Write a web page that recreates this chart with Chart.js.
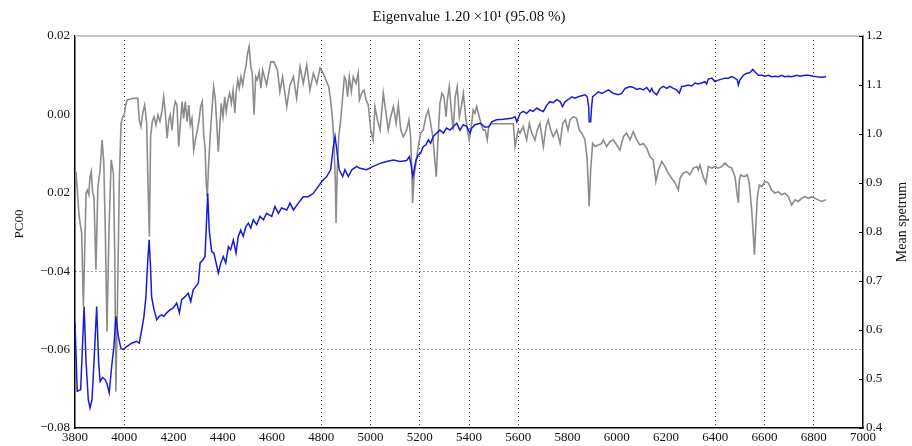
<!DOCTYPE html>
<html>
<head>
<meta charset="utf-8">
<title>Eigenvalue chart</title>
<script src="https://cdn.jsdelivr.net/npm/chart.js@4.4.1/dist/chart.umd.min.js"></script>
<style>
  html, body { margin: 0; padding: 0; background: #fff; }
  canvas { display: block; }
</style>
</head>
<body>
<canvas id="chart" width="912" height="446"></canvas>
<script>
// PC00 (grey, left axis) - wavelength and value
const pcWave = [
  3804,3817,3827,3834,3845,3850,3856,3861,3866,3872,
  3877,3885,3893,3902,3910,3917,3923,3930,3938,3947,
  3956,3962,3966,3973,3980,3987,3994,4000,4006,4012,
  4037,4055,4061,4068,4075,4083,4091,4096,4102,4107,
  4114,4121,4129,4137,4145,4153,4160,4167,4174,4181,
  4187,4194,4201,4207,4214,4221,4228,4235,4241,4248,
  4255,4262,4268,4275,4282,4289,4297,4304,4310,4317,
  4323,4328,4333,4337,4343,4348,4356,4363,4370,4377,
  4382,4388,4394,4401,4408,4414,4421,4428,4435,4442,
  4449,4454,4461,4467,4474,4481,4488,4494,4501,4507,
  4514,4520,4527,4534,4540,4548,4555,4562,4578,4595,
  4608,4622,4632,4643,4660,4673,4687,4700,4714,4727,
  4741,4754,4768,4782,4795,4808,4819,4830,4838,4846,
  4852,4857,4860,4865,4871,4879,4887,4894,4900,4907,
  4914,4922,4930,4941,4950,4955,4964,4974,4982,4991,
  5001,5011,5018,5028,5039,5052,5063,5072,5082,5093,
  5104,5113,5123,5133,5147,5156,5163,5169,5171,5177,
  5188,5196,5204,5214,5225,5235,5242,5253,5262,5267,
  5274,5282,5290,5298,5307,5312,5320,5328,5336,5344,
  5352,5361,5369,5377,5385,5393,5401,5409,5417,5424,
  5431,5438,5445,5452,5458,5466,5474,5480,5488,5580,
  5587,5594,5600,5607,5620,5634,5645,5655,5668,5677,
  5688,5702,5713,5722,5732,5742,5756,5770,5781,5791,
  5802,5810,5824,5837,5848,5858,5871,5880,5888,5894,
  5902,5912,5925,5939,5945,5959,5973,5986,6000,6013,
  6027,6040,6054,6067,6081,6094,6108,6122,6135,6148,
  6159,6169,6183,6196,6209,6223,6237,6250,6257,6270,
  6284,6297,6311,6325,6331,6338,6351,6362,6372,6386,
  6399,6412,6426,6440,6453,6467,6480,6490,6494,6498,
  6503,6517,6530,6538,6548,6555,6559,6564,6571,6579,
  6589,6602,6616,6629,6643,6656,6670,6683,6697,6710,
  6724,6737,6751,6764,6778,6792,6805,6818,6832,6850
];
const pcValues = [
  -0.0146,-0.0261,-0.0303,-0.0490,-0.0201,-0.0193,-0.0205,-0.0159,-0.0146,-0.0201,
  -0.0210,-0.0396,-0.0184,-0.0142,-0.0065,-0.0124,-0.0295,-0.0554,-0.0295,-0.0116,
  -0.0150,-0.0379,-0.0707,-0.0465,-0.0167,-0.0023,-0.0006,-0.0001,0.0024,0.0037,
  0.0041,0.0041,-0.0014,-0.0031,0.0003,0.0024,-0.0023,-0.0167,-0.0312,-0.0057,
  -0.0018,-0.0006,-0.0027,-0.0001,-0.0018,0.0007,0.0045,0.0003,-0.0061,-0.0014,
  -0.0001,-0.0040,0.0011,0.0033,0.0024,-0.0082,-0.0023,0.0033,-0.0010,0.0033,
  -0.0018,0.0024,-0.0027,-0.0010,-0.0091,-0.0065,-0.0040,-0.0014,0.0020,0.0033,
  -0.0057,-0.0082,-0.0175,-0.0210,-0.0124,-0.0065,0.0011,0.0071,0.0037,-0.0040,
  -0.0095,-0.0031,0.0028,-0.0006,0.0045,0.0007,0.0037,0.0054,0.0028,0.0062,
  0.0003,0.0054,0.0088,0.0067,0.0096,0.0075,0.0105,0.0122,0.0156,0.0173,
  0.0122,0.0105,-0.0001,0.0096,0.0088,0.0109,0.0067,0.0113,0.0075,0.0134,
  0.0134,0.0113,0.0058,0.0096,0.0020,0.0075,0.0096,0.0041,0.0122,0.0079,
  0.0126,0.0062,0.0105,0.0079,0.0118,0.0105,0.0088,0.0071,0.0037,-0.0014,
  -0.0082,-0.0167,-0.0277,-0.0142,-0.0057,-0.0014,0.0045,0.0096,0.0088,0.0045,
  0.0096,0.0058,0.0096,0.0079,0.0105,0.0037,0.0054,0.0062,0.0037,0.0024,
  -0.0040,-0.0065,0.0020,-0.0014,-0.0040,0.0054,0.0003,-0.0040,-0.0006,0.0020,
  -0.0023,0.0024,-0.0040,-0.0057,-0.0040,-0.0014,-0.0057,-0.0167,-0.0226,-0.0159,
  -0.0108,-0.0074,-0.0048,-0.0040,-0.0006,0.0011,-0.0014,-0.0057,-0.0124,-0.0159,
  -0.0065,0.0028,0.0054,0.0045,-0.0006,0.0037,0.0071,0.0011,-0.0040,0.0045,
  0.0071,-0.0006,0.0020,0.0054,0.0003,-0.0040,-0.0065,-0.0031,0.0011,0.0003,
  0.0020,0.0003,-0.0014,-0.0031,-0.0040,-0.0040,-0.0065,-0.0031,-0.0024,-0.0024,
  -0.0082,-0.0057,-0.0040,-0.0048,-0.0031,-0.0065,-0.0023,-0.0048,-0.0065,-0.0040,
  -0.0023,-0.0082,-0.0031,-0.0014,-0.0040,-0.0057,-0.0040,-0.0074,-0.0023,-0.0014,
  -0.0040,-0.0014,-0.0006,-0.0010,-0.0040,-0.0048,-0.0065,-0.0116,-0.0235,-0.0142,
  -0.0074,-0.0082,-0.0078,-0.0074,-0.0065,-0.0082,-0.0069,-0.0065,-0.0078,-0.0091,
  -0.0057,-0.0048,-0.0065,-0.0044,-0.0065,-0.0078,-0.0074,-0.0086,-0.0108,-0.0116,
  -0.0171,-0.0142,-0.0120,-0.0133,-0.0150,-0.0163,-0.0175,-0.0193,-0.0163,-0.0150,
  -0.0146,-0.0154,-0.0137,-0.0133,-0.0142,-0.0129,-0.0159,-0.0175,-0.0133,-0.0137,
  -0.0133,-0.0137,-0.0133,-0.0124,-0.0133,-0.0137,-0.0159,-0.0210,-0.0226,-0.0167,
  -0.0154,-0.0159,-0.0154,-0.0175,-0.0244,-0.0312,-0.0358,-0.0295,-0.0210,-0.0180,
  -0.0184,-0.0171,-0.0175,-0.0193,-0.0201,-0.0197,-0.0205,-0.0201,-0.0210,-0.0231,
  -0.0218,-0.0222,-0.0214,-0.0210,-0.0214,-0.0210,-0.0214,-0.0218,-0.0222,-0.0218
];

// mean spectrum (blue, right axis)
const meanWave = [
  3800,3809,3823,3837,3845,3854,3861,3869,3877,3888,
  3896,3902,3912,3922,3929,3939,3949,3958,3966,3976,
  3986,3996,4010,4030,4051,4061,4071,4080,4088,4095,
  4101,4106,4111,4121,4132,4142,4152,4161,4172,4186,
  4199,4213,4224,4233,4247,4260,4270,4280,4291,4301,
  4308,4319,4328,4335,4339,4345,4355,4364,4373,4382,
  4392,4402,4412,4423,4432,4443,4454,4463,4473,4483,
  4494,4504,4514,4524,4538,4551,4565,4578,4599,4612,
  4626,4639,4660,4673,4687,4707,4727,4747,4768,4788,
  4802,4822,4838,4849,4856,4863,4873,4887,4896,4910,
  4924,4944,4957,4984,5011,5039,5066,5093,5120,5147,
  5158,5166,5172,5177,5185,5194,5204,5214,5225,5235,
  5244,5255,5269,5282,5296,5309,5323,5336,5350,5363,
  5377,5391,5404,5411,5424,5445,5465,5482,5492,5512,
  5539,5573,5587,5594,5607,5620,5634,5648,5661,5675,
  5688,5702,5716,5729,5742,5756,5770,5780,5790,5803,
  5817,5830,5844,5858,5871,5880,5886,5888,5894,5898,
  5902,5912,5925,5939,5952,5966,5986,6006,6020,6034,
  6054,6067,6081,6094,6108,6122,6135,6142,6148,6162,
  6176,6189,6203,6216,6230,6243,6254,6264,6277,6291,
  6304,6318,6331,6345,6358,6365,6372,6386,6399,6412,
  6426,6440,6453,6467,6480,6490,6494,6500,6514,6528,
  6541,6552,6561,6575,6589,6602,6616,6629,6643,6656,
  6670,6683,6697,6710,6731,6744,6764,6778,6798,6812,
  6832,6850
];
const meanValues = [
  0.614,0.475,0.478,0.648,0.533,0.458,0.441,0.458,0.533,0.648,
  0.533,0.495,0.503,0.499,0.492,0.472,0.526,0.566,0.628,0.587,
  0.563,0.560,0.566,0.573,0.577,0.573,0.601,0.628,0.668,0.737,
  0.784,0.737,0.668,0.641,0.621,0.628,0.631,0.628,0.635,0.641,
  0.645,0.655,0.635,0.662,0.668,0.675,0.658,0.682,0.689,0.696,
  0.737,0.743,0.750,0.832,0.879,0.804,0.760,0.757,0.737,0.716,
  0.737,0.750,0.737,0.770,0.764,0.784,0.757,0.791,0.804,0.791,
  0.811,0.818,0.808,0.825,0.815,0.832,0.825,0.838,0.832,0.852,
  0.838,0.849,0.845,0.859,0.845,0.859,0.872,0.872,0.879,0.893,
  0.903,0.913,0.927,0.974,0.995,0.968,0.927,0.913,0.927,0.913,
  0.927,0.934,0.930,0.927,0.934,0.940,0.944,0.947,0.944,0.946,
  0.954,0.934,0.913,0.927,0.947,0.957,0.961,0.974,0.978,0.988,
  0.981,0.995,1.002,1.008,1.002,1.012,1.008,1.015,1.022,1.008,
  1.019,1.015,1.002,1.012,1.019,1.022,1.014,1.015,1.025,1.029,
  1.030,1.032,1.035,1.025,1.042,1.046,1.042,1.049,1.046,1.053,
  1.049,1.046,1.059,1.066,1.064,1.070,1.066,1.056,1.066,1.070,
  1.076,1.073,1.076,1.078,1.080,1.076,1.056,1.025,1.025,1.056,
  1.076,1.080,1.086,1.083,1.086,1.090,1.083,1.080,1.083,1.093,
  1.097,1.095,1.091,1.093,1.090,1.095,1.086,1.093,1.086,1.080,
  1.093,1.097,1.093,1.097,1.093,1.090,1.083,1.097,1.098,1.100,
  1.098,1.104,1.102,1.104,1.107,1.102,1.112,1.114,1.107,1.110,
  1.112,1.114,1.114,1.117,1.114,1.110,1.100,1.110,1.120,1.124,
  1.125,1.132,1.127,1.120,1.120,1.118,1.120,1.117,1.118,1.117,
  1.120,1.117,1.118,1.117,1.120,1.118,1.120,1.120,1.118,1.117,
  1.116,1.117
];

// tick labels as printed on the figure (bottom to top)
const pcTickLabels = ['\u22120.08', '\u22120.06', '\u22120.04', '0.02', '0.00', '0.02'];
const meanTickLabels = ['0.4', '0.5', '0.6', '0.7', '0.8', '0.9', '1.0', '1.1', '1.2'];
// only these grid lines are visible in the original
const xGridAt = [4000, 4800, 5000, 5200, 5400, 5600, 6400, 6600, 6800];
const yGridAt = [-0.04, -0.06];

const titleText = 'Eigenvalue 1.20 \u00d710\u00b9 (95.08 %)';
const serif = "'Liberation Serif', 'Times New Roman', serif";

const near = (list, v) => list.some(g => Math.abs(g - v) < 1e-6);

// title, axis labels, top frame and inward ticks
const decorations = {
    id: 'decorations',
    afterDraw(chart) {
        const { ctx, chartArea: a } = chart;
        ctx.save();
        ctx.strokeStyle = '#c4c4c4';
        ctx.lineWidth = 2;
        ctx.beginPath();
        ctx.moveTo(a.left, a.top);
        ctx.lineTo(a.right, a.top);
        ctx.stroke();

        const y2 = chart.scales.y2;
        ctx.strokeStyle = '#000';
        ctx.lineWidth = 1;
        y2.ticks.forEach(t => {
            const py = Math.round(y2.getPixelForValue(t.value)) + 0.5;
            ctx.beginPath();
            ctx.moveTo(a.right - 4, py);
            ctx.lineTo(a.right, py);
            ctx.stroke();
        });

        ctx.fillStyle = '#111';
        ctx.textAlign = 'center';
        ctx.textBaseline = 'middle';
        ctx.font = '15px ' + serif;
        ctx.fillText(titleText, (a.left + a.right) / 2, 17);

        ctx.font = '13px ' + serif;
        ctx.translate(20, 224);
        ctx.rotate(-Math.PI / 2);
        ctx.fillText('PC00', 0, 0);
        ctx.restore();

        ctx.save();
        ctx.fillStyle = '#111';
        ctx.textAlign = 'center';
        ctx.textBaseline = 'middle';
        ctx.font = '14px ' + serif;
        ctx.translate(902, 222);
        ctx.rotate(-Math.PI / 2);
        ctx.fillText('Mean spetrum', 0, 0);
        ctx.restore();
    }
};

new Chart(document.getElementById('chart'), {
    type: 'line',
    data: {
        datasets: [
            {
                label: 'Mean spetrum',
                data: meanWave.map((w, i) => ({ x: w, y: meanValues[i] })),
                yAxisID: 'y2',
                borderColor: '#1a1ad8',
                borderWidth: 1.5,
                pointRadius: 0,
                tension: 0,
                order: 1
            },
            {
                label: 'PC00',
                data: pcWave.map((w, i) => ({ x: w, y: pcValues[i] })),
                yAxisID: 'y',
                borderColor: '#8c8c8c',
                borderWidth: 1.6,
                pointRadius: 0,
                tension: 0,
                order: 2
            }
        ]
    },
    options: {
        responsive: false,
        devicePixelRatio: 1,
        animation: false,
        layout: { padding: { top: 36, left: 0, right: 0, bottom: 0 } },
        plugins: { legend: { display: false }, tooltip: { enabled: false }, title: { display: false } },
        scales: {
            x: {
                type: 'linear',
                min: 3800,
                max: 7000,
                afterFit: s => { s.height = 18; },
                ticks: { stepSize: 200, autoSkip: false, maxRotation: 0, padding: 2, color: '#111', font: { family: serif, size: 13 }, callback: v => String(v) },
                grid: { color: c => near(xGridAt, c.tick.value) ? '#444' : 'rgba(0,0,0,0)', lineWidth: 1, drawTicks: false },
                border: { display: true, color: '#000', width: 1.5, dash: [1, 3] }
            },
            y: {
                position: 'left',
                min: -0.08,
                max: 0.02,
                afterFit: s => { s.width = 75; },
                ticks: { stepSize: 0.02, padding: 5, color: '#111', font: { family: serif, size: 13 }, callback: (v, i) => pcTickLabels[i] },
                grid: { color: c => near(yGridAt, c.tick.value) ? '#444' : 'rgba(0,0,0,0)', lineWidth: 1, drawTicks: false },
                border: { display: true, color: '#000', width: 1.5, dash: [1, 3] }
            },
            y2: {
                position: 'right',
                min: 0.4,
                max: 1.2,
                afterFit: s => { s.width = 49; },
                ticks: { stepSize: 0.1, padding: 3, color: '#111', font: { family: serif, size: 13 }, callback: (v, i) => meanTickLabels[i] },
                grid: { drawOnChartArea: false, drawTicks: false },
                border: { display: true, color: '#000', width: 1.5 }
            }
        }
    },
    plugins: [decorations]
});
</script>
</body>
</html>
